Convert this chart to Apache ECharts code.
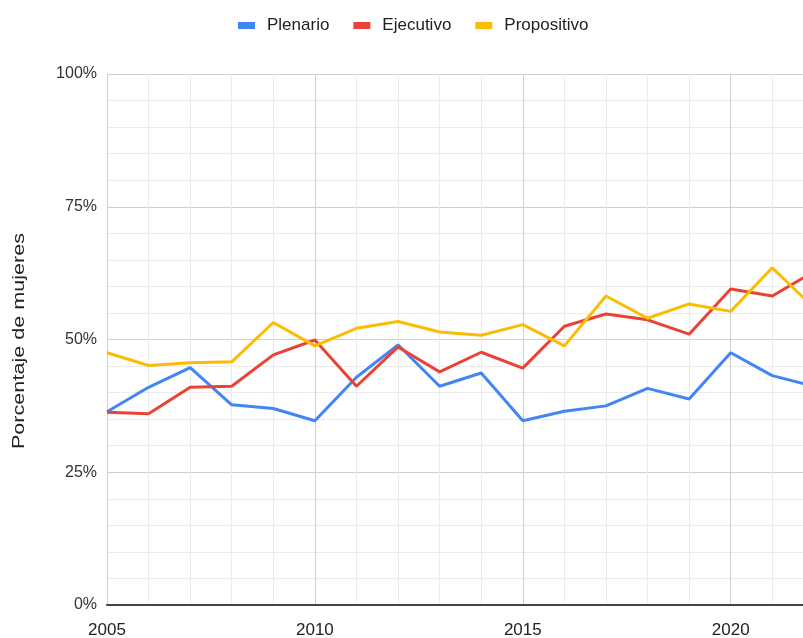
<!DOCTYPE html>
<html>
<head>
<meta charset="utf-8">
<script src="https://cdn.jsdelivr.net/npm/echarts@6/dist/echarts.min.js"></script>
<style>
  html, body { margin: 0; padding: 0; background: #fff; }
  #main { width: 803px; height: 638px; }
</style>
</head>
<body>
<div id="main"></div>
<script>
var years = [2005, 2006, 2007, 2008, 2009, 2010, 2011, 2012, 2013,
             2014, 2015, 2016, 2017, 2018, 2019, 2020, 2021, 2022];
var plenario    = [36.4, 41.0, 44.7, 37.7, 37.0, 34.7, 42.9, 49.0, 41.2,
                   43.7, 34.7, 36.5, 37.5, 40.8, 38.8, 47.5, 43.2, 41.2];   // azul
var ejecutivo   = [36.3, 36.0, 41.0, 41.2, 47.1, 49.9, 41.2, 48.6, 43.9,
                   47.6, 44.6, 52.5, 54.8, 53.7, 51.0, 59.5, 58.2, 62.8];   // rojo
var propositivo = [47.5, 45.1, 45.6, 45.8, 53.2, 48.8, 52.1, 53.4, 51.4,
                   50.8, 52.8, 48.8, 58.2, 54.0, 56.7, 55.3, 63.5, 56.0];   // amarillo
var yTicks = [0, 25, 50, 75, 100];

function pairs(vals) {
    return years.map(function (y, i) { return [y, vals[i]]; });
}

var font = 'Arial, "Liberation Sans", sans-serif';
var chart = echarts.init(document.getElementById('main'));

var option = {
    animation: false,
    backgroundColor: '#fff',
    textStyle: { fontFamily: font },
    legend: {
        left: 233,
        top: 12,
        itemWidth: 17,
        itemHeight: 7,
        itemGap: 24,
        icon: 'rect',
        textStyle: { fontSize: 17, color: '#222', fontFamily: font, padding: [0, 0, 0, 7] },
        data: ['Plenario', 'Ejecutivo', 'Propositivo']
    },
    // the picture is cut on the right, so the grid runs past the canvas
    grid: { left: 107, top: 74, bottom: 33, width: 831.6, outerBoundsMode: 'none' },
    xAxis: {
        type: 'value',
        min: 2005,
        max: 2025,
        interval: 5,
        axisLine: { show: true, onZero: false, lineStyle: { color: '#444', width: 2 } },
        axisTick: { show: false },
        axisLabel: {
            fontSize: 17, color: '#222', margin: 17, fontFamily: font,
            formatter: function (v) { return String(v); }
        },
        splitLine: { show: true, lineStyle: { color: '#cfcfcf', width: 1 } },
        minorTick: { show: false, splitNumber: 5 },
        minorSplitLine: { show: true, lineStyle: { color: '#ebebeb', width: 1 } }
    },
    yAxis: {
        type: 'value',
        min: yTicks[0],
        max: yTicks[yTicks.length - 1],
        interval: 25,
        axisLine: { show: false },
        axisTick: { show: false },
        axisLabel: { fontSize: 16, color: '#333', margin: 10, fontFamily: font, formatter: '{value}%' },
        splitLine: { show: true, lineStyle: { color: '#cfcfcf', width: 1 } },
        minorTick: { show: false, splitNumber: 5 },
        minorSplitLine: { show: true, lineStyle: { color: '#ebebeb', width: 1 } }
    },
    graphic: [{
        type: 'text',
        x: 20,
        y: 341,
        rotation: Math.PI / 2,
        scaleX: 1.35,
        style: {
            text: 'Porcentaje de mujeres',
            fontSize: 16,
            fontFamily: font,
            fill: '#222',
            align: 'center',
            verticalAlign: 'middle'
        }
    }],
    series: [
        {
            name: 'Plenario', type: 'line', showSymbol: false,
            color: '#4285F4', lineStyle: { width: 3 },
            data: pairs(plenario)
        },
        {
            name: 'Ejecutivo', type: 'line', showSymbol: false,
            color: '#EA4335', lineStyle: { width: 3 },
            data: pairs(ejecutivo)
        },
        {
            name: 'Propositivo', type: 'line', showSymbol: false,
            color: '#FBBC04', lineStyle: { width: 3 },
            data: pairs(propositivo)
        }
    ]
};
chart.setOption(option);
</script>
</body>
</html>
